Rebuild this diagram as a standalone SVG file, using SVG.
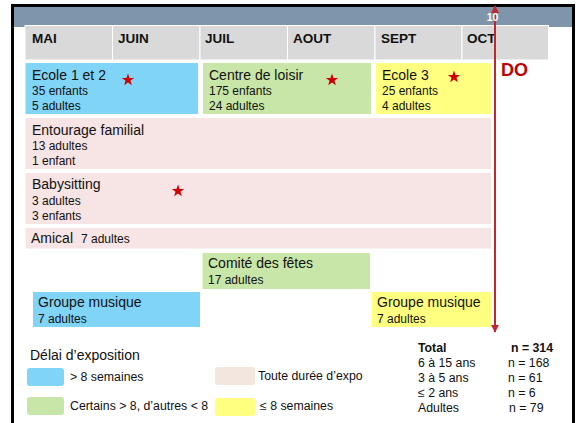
<svg xmlns="http://www.w3.org/2000/svg" xmlns:xlink="http://www.w3.org/1999/xlink" width="579" height="423" viewBox="0 0 579 423">
<style>
text{font-family:"Liberation Sans",Arial,sans-serif;fill:#111;}
.m{font-size:13.5px;font-weight:bold;}
.t{font-size:14px;}
.s{font-size:12px;}
.l{font-size:12.3px;}
.cell{fill:#d9d9d9;stroke:#fff;stroke-width:1;}
.blue{fill:#80d4f6;}
.green{fill:#c8e6a8;}
.yellow{fill:#ffff80;}
.pink{fill:#f7e4e4;}
.beige{fill:#f2e6de;}
.star{fill:#d00000;}
</style>
<defs>
<polygon id="star" points="0,-6.5 1.53,-2.1 6.18,-2.01 2.47,0.8 3.82,5.26 0,2.6 -3.82,5.26 -2.47,0.8 -6.18,-2.01 -1.53,-2.1"/>
<marker id="ah" viewBox="0 0 10 10" refX="9" refY="5" markerWidth="4" markerHeight="4" orient="auto-start-reverse"><path d="M0,0 L10,5 L0,10 z" fill="#c1272d"/></marker>
</defs>
<rect x="0" y="0" width="579" height="423" fill="#fff"/>
<g id="frame">
<rect x="14" y="7" width="558" height="20" fill="#7f95ab"/>
<rect x="11" y="4" width="564" height="3" fill="#000"/>
<rect x="11" y="4" width="3" height="419" fill="#000"/>
<rect x="572" y="4" width="3" height="419" fill="#000"/>
</g>
<g id="months">
<rect class="cell" x="25" y="25.5" width="87.5" height="34.5"/>
<rect class="cell" x="112.5" y="25.5" width="87.5" height="34.5"/>
<rect class="cell" x="200" y="25.5" width="87.5" height="34.5"/>
<rect class="cell" x="287.5" y="25.5" width="87.5" height="34.5"/>
<rect class="cell" x="375" y="25.5" width="87" height="34.5"/>
<rect class="cell" x="462" y="25.5" width="86.5" height="34.5"/>
<text class="m" x="32" y="43">MAI</text>
<text class="m" x="118" y="43">JUIN</text>
<text class="m" x="205" y="43">JUIL</text>
<text class="m" x="293" y="43">AOUT</text>
<text class="m" x="381" y="43">SEPT</text>
<text class="m" x="467" y="43">OCT</text>
</g>
<g id="ecole12">
<rect class="blue" x="25.5" y="63" width="172.5" height="51"/>
<text class="t" x="32" y="80">Ecole 1 et 2</text>
<text class="s" x="32" y="95">35 enfants</text>
<text class="s" x="32" y="110">5 adultes</text>
<use xlink:href="#star" class="star" x="128" y="80"/>
</g>
<g id="centre">
<rect class="green" x="203" y="63" width="168" height="51"/>
<text class="t" x="209" y="80">Centre de loisir</text>
<text class="s" x="209" y="95">175 enfants</text>
<text class="s" x="209" y="110">24 adultes</text>
<use xlink:href="#star" class="star" x="332" y="80"/>
</g>
<g id="ecole3">
<rect class="yellow" x="376" y="63" width="115" height="51"/>
<text class="t" x="382" y="80">Ecole 3</text>
<text class="s" x="382" y="95">25 enfants</text>
<text class="s" x="382" y="110">4 adultes</text>
<use xlink:href="#star" class="star" x="454" y="77"/>
</g>
<g id="entourage">
<rect class="pink" x="25.5" y="118" width="465.5" height="51"/>
<text class="t" x="32" y="135">Entourage familial</text>
<text class="s" x="32" y="150">13 adultes</text>
<text class="s" x="32" y="165">1 enfant</text>
</g>
<g id="babysitting">
<rect class="pink" x="25.5" y="173" width="465.5" height="51"/>
<text class="t" x="32" y="189">Babysitting</text>
<text class="s" x="32" y="205">3 adultes</text>
<text class="s" x="32" y="220">3 enfants</text>
<use xlink:href="#star" class="star" x="178" y="191"/>
</g>
<g id="amical">
<rect class="pink" x="25.5" y="228" width="465.5" height="20.5"/>
<text class="t" x="31" y="243">Amical</text>
<text class="s" x="81" y="243">7 adultes</text>
</g>
<g id="comite">
<rect class="green" x="202.5" y="253" width="167.5" height="36"/>
<text class="t" x="208" y="268">Comité des fêtes</text>
<text class="s" x="208" y="284">17 adultes</text>
</g>
<g id="groupe1">
<rect class="blue" x="33" y="292" width="167" height="35"/>
<text class="t" x="38" y="307">Groupe musique</text>
<text class="s" x="38" y="323">7 adultes</text>
</g>
<g id="groupe2">
<rect class="yellow" x="372" y="292" width="119" height="35"/>
<text class="t" x="377" y="307">Groupe musique</text>
<text class="s" x="377" y="323">7 adultes</text>
</g>
<g id="connectors">
<line x1="495" y1="6" x2="495" y2="332" stroke="#c1272d" stroke-width="2" marker-start="url(#ah)" marker-end="url(#ah)"/>
</g>
<g id="do">
<text x="492.5" y="20.5" text-anchor="middle" style="font-size:10.5px;font-weight:bold;fill:#fff">10</text>
<text x="501" y="76" style="font-size:18px;font-weight:bold;fill:#c00000">DO</text>
</g>
<g id="legend">
<text class="t" x="30" y="360">Délai d’exposition</text>
<rect class="blue" x="27" y="368" width="37" height="18" rx="3"/>
<text class="l" x="70" y="381">&gt; 8 semaines</text>
<rect class="green" x="27" y="397" width="37" height="18" rx="3"/>
<text class="l" x="70" y="410">Certains &gt; 8, d’autres &lt; 8</text>
<rect class="beige" x="215" y="367" width="40" height="18" rx="3"/>
<text class="l" x="258" y="380">Toute durée d’expo</text>
<rect class="yellow" x="215" y="398" width="40" height="18" rx="3"/>
<text class="l" x="260" y="410">≤ 8 semaines</text>
</g>
<g id="totals">
<text class="l" x="418" y="352" style="font-weight:bold">Total</text>
<text class="l" x="511" y="352" style="font-weight:bold">n = 314</text>
<text class="l" x="418" y="367">6 à 15 ans</text>
<text class="l" x="508" y="367">n = 168</text>
<text class="l" x="418" y="382">3 à 5 ans</text>
<text class="l" x="508" y="382">n = 61</text>
<text class="l" x="418" y="397">≤ 2 ans</text>
<text class="l" x="508" y="397">n = 6</text>
<text class="l" x="418" y="412">Adultes</text>
<text class="l" x="509" y="412">n = 79</text>
</g>
</svg>
